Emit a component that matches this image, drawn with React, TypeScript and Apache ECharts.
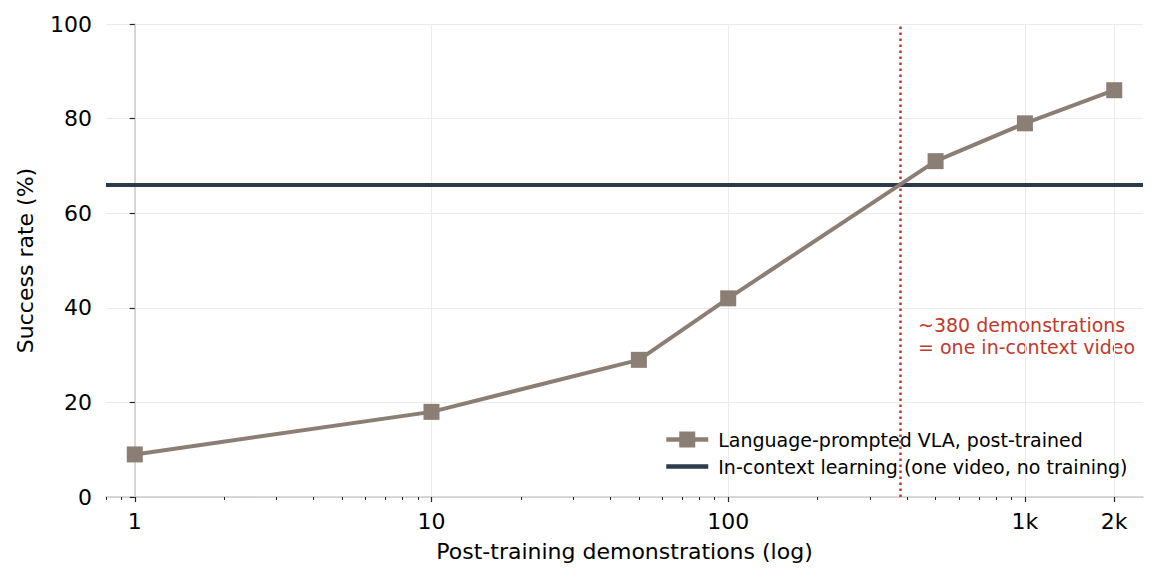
import { useEffect, useRef } from "react";
import * as echarts from "echarts";

// 数据
const DEMOS = [1, 10, 50, 100, 500, 1000, 2000];
const VLA_RATES = [9, 18, 29, 42, 71, 79, 86];
const ICL_RATE = 66;
const CROSSOVER = 380;

const MAJOR_TICKS = [1, 10, 100, 1000, 2000];
const MAJOR_LABELS = ["1", "10", "100", "1k", "2k"];
const MINOR_TICKS = [
  0.8, 0.9, 2, 3, 4, 5, 6, 7, 8, 9, 20, 30, 40, 50, 60, 70, 80, 90, 200, 300,
  400, 500, 600, 700, 800, 900,
];
const X_MIN = 0.8;
const X_MAX = 2500;

const FONT = "DejaVu Sans";
const VLA_COLOR = "#8b7e74";
const ICL_COLOR = "#2d3a4a";
const RED = "#c0392b";

const VLA_NAME = "Language-prompted VLA, post-trained";
const ICL_NAME = "In-context learning (one video, no training)";

const lg = (v: number) => Math.log10(v);

export default function App() {
  const chartRef = useRef<HTMLDivElement>(null);

  useEffect(() => {
    document.body.style.margin = "0";
    if (!chartRef.current) return;
    const chart = echarts.init(chartRef.current, null, { renderer: "svg" });

    const option: echarts.EChartsOption = {
      animation: false,
      textStyle: { fontFamily: FONT },
      grid: { left: 106, right: 15, top: 24, bottom: 83 },
      xAxis: [
        {
          type: "value",
          position: "bottom",
          min: lg(X_MIN),
          max: lg(X_MAX),
          name: "Post-training demonstrations (log)",
          nameLocation: "middle",
          nameGap: 43,
          nameTextStyle: { fontSize: 22, color: "#000", fontFamily: FONT },
          axisLine: { show: true, lineStyle: { color: "#cccccc", width: 1.5 } },
          axisTick: {
            show: true,
            length: 5,
            customValues: MAJOR_TICKS.map(lg),
            lineStyle: { color: "#222", width: 1.2 },
          },
          axisLabel: {
            customValues: MAJOR_TICKS.map(lg),
            margin: 13,
            fontSize: 22,
            color: "#000",
            fontFamily: FONT,
            formatter: (v: number) => {
              const i = MAJOR_TICKS.findIndex((t) => Math.abs(lg(t) - v) < 1e-6);
              return i >= 0 ? MAJOR_LABELS[i] : "";
            },
          },
          splitLine: { show: true, lineStyle: { color: "#ebebeb", width: 1 } },
        },
        {
          // 次刻度
          type: "value",
          position: "bottom",
          gridIndex: 0,
          min: lg(X_MIN),
          max: lg(X_MAX),
          axisLine: { show: false },
          axisTick: {
            show: true,
            length: 3,
            customValues: MINOR_TICKS.map(lg),
            lineStyle: { color: "#222", width: 1 },
          },
          axisLabel: { show: false },
          splitLine: { show: false },
        },
      ],
      yAxis: {
        type: "value",
        min: 0,
        max: 100,
        interval: 20,
        name: "Success rate (%)",
        nameLocation: "middle",
        nameGap: 70,
        nameTextStyle: { fontSize: 22, color: "#000", fontFamily: FONT },
        axisLine: { show: true, lineStyle: { color: "#cccccc", width: 1.5 } },
        axisTick: { show: true, length: 5, lineStyle: { color: "#222", width: 1.2 } },
        axisLabel: { margin: 14, fontSize: 22, color: "#000", fontFamily: FONT },
        splitLine: { show: true, lineStyle: { color: "#ebebeb", width: 1 } },
      },
      legend: {
        orient: "vertical",
        left: 664,
        top: 430,
        padding: 0,
        itemWidth: 42,
        itemHeight: 20,
        itemGap: 8,
        textStyle: {
          fontSize: 19,
          color: "#000",
          fontFamily: FONT,
          padding: [0, 0, 0, 5],
        },
        data: [
          { name: VLA_NAME, lineStyle: { width: 4.5 } },
          { name: ICL_NAME, itemStyle: { opacity: 0 }, lineStyle: { width: 4.5 } },
        ],
      },
      graphic: [
        {
          type: "text",
          left: 918,
          top: 314,
          style: {
            text: "~380 demonstrations\n= one in-context video",
            fontSize: 19,
            lineHeight: 22,
            fill: RED,
            fontFamily: FONT,
          },
        },
      ],
      series: [
        {
          name: ICL_NAME,
          type: "line",
          data: [],
          symbol: "none",
          lineStyle: { color: ICL_COLOR, width: 4 },
          itemStyle: { color: ICL_COLOR },
          markLine: {
            silent: true,
            symbol: "none",
            label: { show: false },
            data: [
              {
                yAxis: ICL_RATE,
                lineStyle: { color: ICL_COLOR, width: 4, type: "solid" },
              },
              {
                xAxis: lg(CROSSOVER),
                lineStyle: { color: RED, width: 2.5, type: [2.5, 3.5] },
              },
            ],
          },
        },
        {
          name: VLA_NAME,
          type: "line",
          data: DEMOS.map((d, i) => [lg(d), VLA_RATES[i]]),
          symbol: "rect",
          symbolSize: 16,
          lineStyle: { color: VLA_COLOR, width: 4 },
          itemStyle: { color: VLA_COLOR },
          z: 5,
        },
      ],
    };

    chart.setOption(option);

    return () => {
      chart.dispose();
    };
  }, []);

  return <div ref={chartRef} style={{ width: 1158, height: 580 }} />;
}
